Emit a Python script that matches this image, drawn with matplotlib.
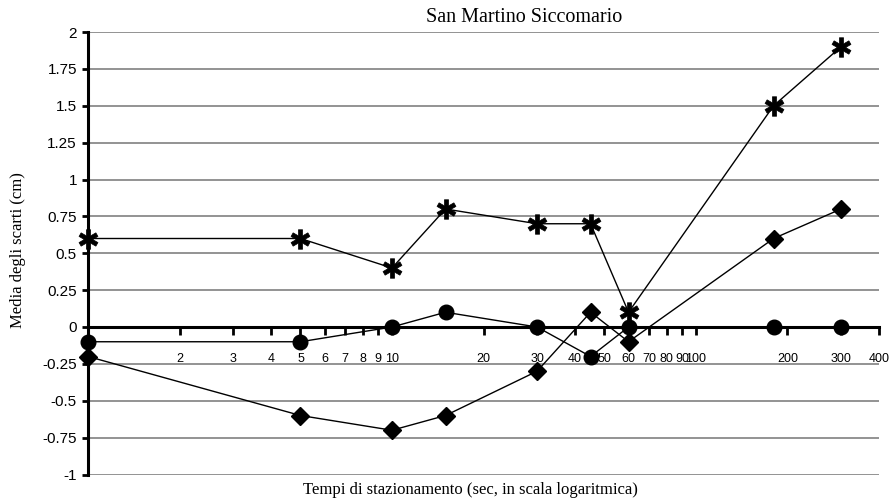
import matplotlib
matplotlib.use('Agg')
import matplotlib.pyplot as plt

# tempi di stazionamento (sec)
tempi = [1, 5, 10, 15, 30, 45, 60, 180, 300]
serie_stella = [0.6, 0.6, 0.4, 0.8, 0.7, 0.7, 0.1, 1.5, 1.9]
serie_rombo = [-0.2, -0.6, -0.7, -0.6, -0.3, 0.1, -0.1, 0.6, 0.8]
serie_cerchio = [-0.1, -0.1, 0.0, 0.1, 0.0, -0.2, 0.0, 0.0, 0.0]

x_ticks = [2, 3, 4, 5, 6, 7, 8, 9, 10, 20, 30, 40, 50, 60, 70, 80, 90,
           100, 200, 300, 400]
y_ticks = [-1, -0.75, -0.5, -0.25, 0, 0.25, 0.5, 0.75, 1, 1.25, 1.5,
           1.75, 2]

title = 'San Martino Siccomario'
xlabel = 'Tempi di stazionamento (sec, in scala logaritmica)'
ylabel = 'Media degli scarti (cm)'

serif = 'Liberation Serif'
sans = 'Liberation Sans'

fig = plt.figure(figsize=(8.91, 4.99), dpi=100)
ax = fig.add_axes([88 / 891, 1 - 474.5 / 499, (879 - 88) / 891,
                   (474.5 - 32) / 499])

ax.set_xscale('log')
ax.set_xlim(1, 400)
ax.set_ylim(-1, 2)

for y in y_ticks:
    ax.axhline(y, color='#808080', lw=1.2, zorder=1)

ax.plot(tempi, serie_cerchio, color='black', lw=1, marker='o',
        markersize=10.5, zorder=4, clip_on=False)
ax.plot(tempi, serie_rombo, color='black', lw=1, marker='D',
        markersize=9.5, zorder=4, clip_on=False)
ax.plot(tempi, serie_stella, color='black', lw=1, marker='$\u2731$',
        markersize=14, markeredgewidth=0.5, zorder=4, clip_on=False)

ax.spines['top'].set_visible(False)
ax.spines['right'].set_visible(False)
ax.spines['left'].set_linewidth(2.2)
ax.spines['bottom'].set_linewidth(2.2)
ax.spines['bottom'].set_position(('data', 0))
ax.spines['left'].set_zorder(3)
ax.spines['bottom'].set_zorder(3)

ax.set_xticks(x_ticks)
ax.set_xticklabels([str(t) for t in x_ticks])
ax.xaxis.set_minor_locator(matplotlib.ticker.NullLocator())
ax.tick_params(axis='x', direction='out', length=6, width=2, pad=13,
               labelsize=9)
for lab in ax.get_xticklabels():
    lab.set_fontfamily(sans)

ax.set_yticks(y_ticks)
ax.set_yticklabels(['%g' % t for t in y_ticks])
ax.tick_params(axis='y', direction='out', length=4, width=2, pad=4,
               labelsize=11)
for lab in ax.get_yticklabels():
    lab.set_fontfamily(sans)

fig.text(524 / 891, 1 - 18 / 499, title, family=serif, fontsize=14.5,
         ha='center', va='center')
fig.text(470 / 891, 1 - 490 / 499, xlabel, family=serif, fontsize=12,
         ha='center', va='center')
fig.text(18 / 891, 1 - 250 / 499, ylabel, family=serif, fontsize=12,
         ha='center', va='center', rotation=90)

plt.savefig('out.png', dpi=100)
